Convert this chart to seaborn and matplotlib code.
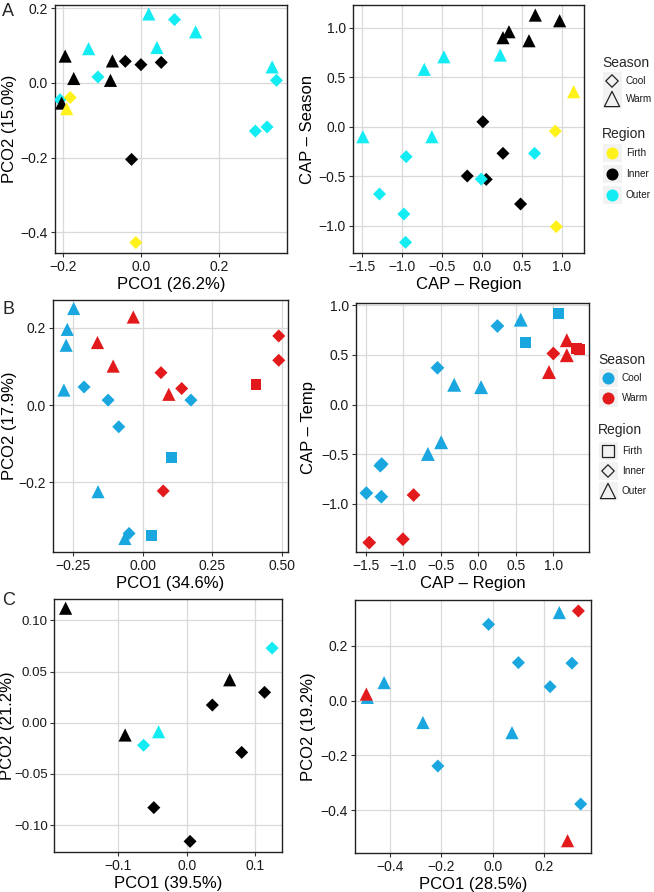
import numpy as np
import pandas as pd
import matplotlib
matplotlib.use("Agg")
import matplotlib.pyplot as plt
import matplotlib.transforms as mtransforms
import seaborn as sns
from matplotlib.patches import Rectangle

# ---------------- data ----------------
# Panel A left (PCO)
a1_x = [0.020, 0.140, 0.041, -0.134, 0.336,
        0.086, -0.110, 0.347, 0.293, 0.323, -0.207,
        -0.194, -0.172, -0.073, -0.078, -0.203,
        -0.040, 0.000, 0.052, -0.024,
        -0.181, -0.190, -0.013]
a1_y = [0.185, 0.137, 0.095, 0.092, 0.043,
        0.170, 0.016, 0.007, -0.129, -0.118, -0.045,
        0.072, 0.012, 0.059, 0.007, -0.054,
        0.058, 0.049, 0.055, -0.205,
        -0.039, -0.069, -0.428]
a1_region = ["Outer"] * 11 + ["Inner"] * 9 + ["Firth"] * 3
a1_season = (["Warm"] * 5 + ["Cool"] * 6 + ["Warm"] * 5 + ["Cool"] * 4
             + ["Cool", "Warm", "Cool"])

# Panel A right (CAP)
a2_x = [0.667, 0.971, 0.338, 0.263, 0.588,
        0.012, 0.263, -0.183, 0.054, 0.483,
        -0.475, -0.720, 0.229, -1.487, -0.625,
        -0.946, 0.658, -0.008, -1.279, -0.975, -0.954,
        1.146, 0.917, 0.929]
a2_y = [1.128, 1.071, 0.960, 0.900, 0.869,
        0.050, -0.269, -0.498, -0.532, -0.781,
        0.707, 0.580, 0.724, -0.101, -0.101,
        -0.303, -0.269, -0.529, -0.680, -0.882, -1.168,
        0.354, -0.044, -1.010]
a2_region = ["Inner"] * 10 + ["Outer"] * 11 + ["Firth"] * 3
a2_season = (["Warm"] * 5 + ["Cool"] * 5 + ["Warm"] * 5 + ["Cool"] * 6
             + ["Warm", "Cool", "Cool"])

# Panel B left (PCO)
b1_x = [-0.246, -0.269, -0.273, -0.281, -0.159, -0.063,
        -0.209, -0.123, -0.085, 0.173, -0.048,
        0.104, 0.032,
        -0.033, -0.161, -0.105, 0.094,
        0.487, 0.487, 0.066, 0.140, 0.074,
        0.406]
b1_y = [0.250, 0.196, 0.155, 0.039, -0.224, -0.345,
        0.047, 0.013, -0.056, 0.013, -0.332,
        -0.136, -0.338,
        0.228, 0.162, 0.101, 0.028,
        0.179, 0.116, 0.084, 0.043, -0.222,
        0.053]
b1_season = ["Cool"] * 13 + ["Warm"] * 10
b1_region = (["Outer"] * 6 + ["Inner"] * 5 + ["Firth"] * 2
             + ["Outer"] * 4 + ["Inner"] * 5 + ["Firth"])

# Panel B right (CAP)
b2_x = [1.066, 0.632,
        0.565, -0.323, 0.036, -0.497, -0.674,
        0.254, -0.546, -1.309, -1.290, -1.495, -1.295,
        1.000, -0.865, -1.007, -1.456,
        1.180, 1.180, 0.942,
        1.310, 1.350]
b2_y = [0.916, 0.623,
        0.855, 0.199, 0.175, -0.380, -0.498,
        0.791, 0.370, -0.616, -0.600, -0.892, -0.929,
        0.514, -0.912, -1.357, -1.391,
        0.648, 0.497, 0.327,
        0.565, 0.555]
b2_season = ["Cool"] * 13 + ["Warm"] * 9
b2_region = (["Firth"] * 2 + ["Outer"] * 5 + ["Inner"] * 6
             + ["Inner"] * 4 + ["Outer"] * 3 + ["Firth"] * 2)

# Panel C left (PCO)
c1_x = [-0.177, -0.090, 0.063,
        0.0376, 0.114, 0.0805, -0.048, 0.005,
        -0.041, -0.063, 0.125]
c1_y = [0.112, -0.012, 0.042,
        0.0173, 0.0297, -0.029, -0.083, -0.116,
        -0.0088, -0.022, 0.073]
c1_region = ["Inner"] * 8 + ["Outer"] * 3
c1_season = ["Warm"] * 3 + ["Cool"] * 5 + ["Warm", "Cool", "Cool"]

# Panel C right (PCO)
c2_x = [0.258, -0.423, -0.488, -0.272, 0.074,
        -0.017, 0.099, 0.307, 0.222, -0.214, 0.341,
        0.332, -0.492, 0.290]
c2_y = [0.322, 0.066, 0.012, -0.080, -0.117,
        0.279, 0.139, 0.137, 0.051, -0.239, -0.378,
        0.328, 0.024, -0.512]
c2_season = ["Cool"] * 11 + ["Warm"] * 3
c2_region = ["Outer"] * 5 + ["Inner"] * 6 + ["Inner", "Outer", "Outer"]

region_colors = {"Firth": "#FFF21A", "Inner": "#000000", "Outer": "#14ECF4"}
season_colors = {"Cool": "#1AA7E0", "Warm": "#E31A1C"}
season_markers = {"Cool": "D", "Warm": "^"}
region_markers = {"Firth": "s", "Inner": "D", "Outer": "^"}
marker_sizes = {"D": 44, "^": 90, "s": 58}

# ---------------- style ----------------
sns.set_theme(style="whitegrid")
plt.rcParams["font.family"] = ["Liberation Sans", "DejaVu Sans"]
plt.rcParams["axes.unicode_minus"] = True

W, H = 654, 892
fig = plt.figure(figsize=(W / 100, H / 100), dpi=100)
fig.patch.set_facecolor("white")


def px_axes(x0, y0, x1, y1):
    return fig.add_axes([x0 / W, 1 - y1 / H, (x1 - x0) / W, (y1 - y0) / H])


def panel(rect, xs, ys, colvar, shapevar, palette, markers, xlim, ylim,
          xticks, yticks, xlabel, ylabel, xfmt, yfmt, ylab_x, scale=1.0,
          tsize=10, tpad=2):
    ax = px_axes(*rect)
    df = pd.DataFrame({"x": xs, "y": ys, "col": colvar, "shape": shapevar})
    for cat, mk in markers.items():
        sub = df[df["shape"] == cat]
        if len(sub) == 0:
            continue
        sns.scatterplot(data=sub, x="x", y="y", hue="col", palette=palette,
                        marker=mk, s=marker_sizes[mk] * scale, linewidth=0,
                        edgecolor="none", legend=False, ax=ax, zorder=3)
    ax.set_xlim(*xlim)
    ax.set_ylim(*ylim)
    ax.set_xticks(xticks)
    ax.set_yticks(yticks)
    ax.set_xticklabels([xfmt.format(v).replace("-", "\u2212") for v in xticks])
    ax.set_yticklabels([yfmt.format(v).replace("-", "\u2212") for v in yticks])
    ax.set_facecolor("white")
    ax.grid(True, color="#D9D9D9", linewidth=0.9)
    ax.set_axisbelow(True)
    for sp in ax.spines.values():
        sp.set_color("#222222")
        sp.set_linewidth(1.0)
        sp.set_visible(True)
    ax.tick_params(axis="x", which="major", length=3, width=0.8,
                   color="#333333", labelsize=10, labelcolor="#1a1a1a",
                   pad=2, bottom=True)
    ax.tick_params(axis="y", which="major", length=3, width=0.8,
                   color="#333333", labelsize=tsize, labelcolor="#1a1a1a",
                   pad=tpad, left=True)
    ax.set_xlabel(xlabel, fontsize=12, color="black", labelpad=2)
    ax.set_ylabel(ylabel, fontsize=12, color="black", va="center")
    tr = mtransforms.blended_transform_factory(fig.transFigure, ax.transAxes)
    ax.yaxis.set_label_coords(ylab_x / W, 0.5, transform=tr)
    return ax


# A left
panel((55, 5, 287, 253), a1_x, a1_y, a1_region, a1_season, region_colors,
      season_markers, (-0.22, 0.374), (-0.456, 0.209),
      [-0.2, 0.0, 0.2], [-0.4, -0.2, 0.0, 0.2],
      "PCO1 (26.2%)", "PCO2 (15.0%)", "{:.1f}", "{:.1f}", 10)
# A right
panel((353, 5, 584, 253), a2_x, a2_y, a2_region, a2_season, region_colors,
      season_markers, (-1.61, 1.275), (-1.276, 1.23),
      [-1.5, -1.0, -0.5, 0.0, 0.5, 1.0], [-1.0, -0.5, 0.0, 0.5, 1.0],
      "CAP \u2013 Region", "CAP \u2013 Season", "{:.1f}", "{:.1f}", 308)
# B left
panel((53, 300, 288, 552), b1_x, b1_y, b1_season, b1_region, season_colors,
      region_markers, (-0.32, 0.52), (-0.38, 0.272),
      [-0.25, 0.0, 0.25, 0.5], [-0.2, 0.0, 0.2],
      "PCO1 (34.6%)", "PCO2 (17.9%)", "{:.2f}", "{:.1f}", 10)
# B right
panel((356, 303, 589, 552), b2_x, b2_y, b2_season, b2_region, season_colors,
      region_markers, (-1.633, 1.476), (-1.486, 1.023),
      [-1.5, -1.0, -0.5, 0.0, 0.5, 1.0], [-1.0, -0.5, 0.0, 0.5, 1.0],
      "CAP \u2013 Region", "CAP \u2013 Temp", "{:.1f}", "{:.1f}", 308,
      scale=1.12)
# C left
panel((54, 599, 282, 852), c1_x, c1_y, c1_region, c1_season, region_colors,
      season_markers, (-0.194, 0.1395), (-0.1264, 0.121),
      [-0.1, 0.0, 0.1], [-0.10, -0.05, 0.0, 0.05, 0.10],
      "PCO1 (39.5%)", "PCO2 (21.2%)", "{:.1f}", "{:.2f}", 8,
      tsize=9.6, tpad=1.5)
# C right
panel((355, 600, 591, 853), c2_x, c2_y, c2_season, c2_region, season_colors,
      region_markers, (-0.536, 0.381), (-0.557, 0.368),
      [-0.4, -0.2, 0.0, 0.2], [-0.4, -0.2, 0.0, 0.2],
      "PCO1 (28.5%)", "PCO2 (19.2%)", "{:.1f}", "{:.1f}", 308)

# panel letters
for letter, ypx in (("A", 3), ("B", 301), ("C", 592)):
    fig.text(2 / W, 1 - ypx / H, letter, fontsize=13, ha="left", va="top")

# ---------------- legends ----------------
lax = fig.add_axes([0, 0, 1, 1])
lax.set_xlim(0, W)
lax.set_ylim(H, 0)
lax.axis("off")


def legend_block(x0, ytitle, title, keys, kind):
    lax.text(x0, ytitle, title, fontsize=10, ha="left", va="center")
    for label, yc, color, mk in keys:
        lax.add_patch(Rectangle((x0 + 0.5, yc - 9), 19, 18, facecolor="#F2F2F2",
                                edgecolor="none", zorder=1))
        if kind == "fill":
            lax.scatter([x0 + 10], [yc], s=75, marker="o", color=color,
                        linewidth=0, zorder=2)
        else:
            sz = {"D": 40, "^": 120, "s": 70}[mk]
            lax.scatter([x0 + 10], [yc], s=sz, marker=mk, facecolor="none",
                        edgecolor="#222222", linewidth=0.9, zorder=2)
        lax.text(x0 + 24, yc, label, fontsize=7.2, ha="left", va="center",
                 color="#1a1a1a")


legend_block(602, 63, "Season",
             [("Cool", 81, None, "D"), ("Warm", 99, None, "^")], "shape")
legend_block(602, 134, "Region",
             [("Firth", 153, region_colors["Firth"], None),
              ("Inner", 174, region_colors["Inner"], None),
              ("Outer", 195, region_colors["Outer"], None)], "fill")
legend_block(598, 360, "Season",
             [("Cool", 378, season_colors["Cool"], None),
              ("Warm", 398, season_colors["Warm"], None)], "fill")
legend_block(598, 430, "Region",
             [("Firth", 451, None, "s"), ("Inner", 471, None, "D"),
              ("Outer", 491, None, "^")], "shape")

fig.savefig("out.png", dpi=100)
